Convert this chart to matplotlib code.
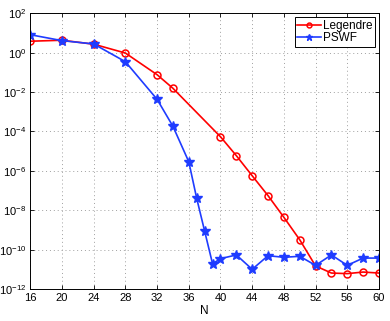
import numpy as np
import matplotlib
matplotlib.use('Agg')
import matplotlib.pyplot as plt

# Legendre error (log10 values)
n_leg = [16, 20, 24, 28, 32, 34, 40, 42, 44, 46, 48, 50, 52, 54, 56, 58, 60]
log_leg = [0.58, 0.63, 0.43, -0.02, -1.12, -1.81, -4.27, -5.23, -6.25, -7.26,
           -8.36, -9.5, -10.83, -11.19, -11.22, -11.14, -11.19]

# PSWF error
n_pswf = [16, 20, 24, 28, 32, 34, 36, 37, 38, 39, 40, 42, 44, 46, 48, 50,
          52, 54, 56, 58, 60]
log_pswf = [0.91, 0.61, 0.44, -0.46, -2.37, -3.74, -5.54, -7.4, -9.06, -10.72,
            -10.46, -10.27, -11.0, -10.31, -10.39, -10.34, -10.8, -10.27,
            -10.8, -10.43, -10.43]

err_leg = 10.0 ** np.array(log_leg)
err_pswf = 10.0 ** np.array(log_pswf)

plt.rcParams['font.family'] = ['Liberation Sans', 'DejaVu Sans']
plt.rcParams['mathtext.fontset'] = 'custom'
plt.rcParams['mathtext.rm'] = 'Liberation Sans'
plt.rcParams['mathtext.it'] = 'Liberation Sans:italic'
plt.rcParams['font.size'] = 8

fig = plt.figure(figsize=(3.9, 3.21), dpi=100)
ax = fig.add_axes([0.0777, 0.0997, 0.894, 0.859])

ax.semilogy(n_leg, err_leg, '-o', color='r', lw=1.2, ms=5, mfc='none',
            mew=1.1, label='Legendre')
ax.semilogy(n_pswf, err_pswf, '-*', color='#1f3cff', lw=1.2, ms=7,
            label='PSWF')

ax.set_xlim(16, 60)
ax.set_ylim(1e-12, 1e2)
ax.set_xticks(np.arange(16, 61, 4))
ax.set_yticks(10.0 ** np.arange(-12, 3, 2))
ax.yaxis.set_minor_locator(matplotlib.ticker.NullLocator())
ax.tick_params(direction='in', top=True, right=True, length=3, width=0.6,
               labelsize=8, pad=3)
ax.grid(True, ls=(0, (1, 3)), color='#a0a0a0', lw=0.7)
for s in ax.spines.values():
    s.set_linewidth(0.7)
ax.set_xlabel('N', fontsize=8.5, labelpad=1)

leg = ax.legend(loc='upper right', fancybox=False, edgecolor='k',
                framealpha=1, borderpad=0.2, handlelength=2.0,
                handletextpad=0.2, labelspacing=0.05, borderaxespad=0.35,
                fontsize=8.5, markerscale=0.7)
leg.get_frame().set_linewidth(0.7)

fig.savefig('out.png', dpi=100)
